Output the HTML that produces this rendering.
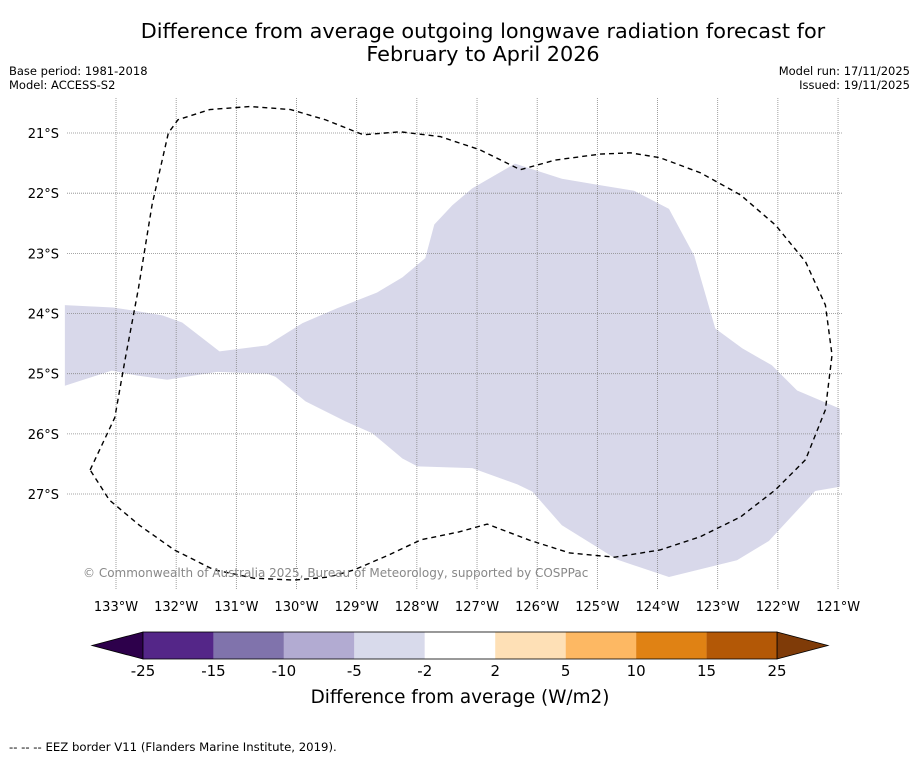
<!DOCTYPE html>
<html><head><meta charset="utf-8"><style>
body{margin:0;background:#fff;width:919px;height:758px;overflow:hidden;font-family:"DejaVu Sans","Liberation Sans",sans-serif;}
svg text{font-family:"DejaVu Sans","Liberation Sans",sans-serif;}
</style></head><body>
<svg id="chart" width="919" height="758">
<text x="483" y="38" font-size="20.8" text-anchor="middle">Difference from average outgoing longwave radiation forecast for</text>
<text x="483" y="61" font-size="20.8" text-anchor="middle">February to April 2026</text>
<text x="9" y="75" font-size="11.5">Base period: 1981-2018</text>
<text x="9" y="89" font-size="11.5">Model: ACCESS-S2</text>
<text x="910" y="75" font-size="11.5" text-anchor="end">Model run: 17/11/2025</text>
<text x="910" y="89" font-size="11.5" text-anchor="end">Issued: 19/11/2025</text>
<g id="map"></g>
<g id="cbar"></g>
<text x="460" y="703" font-size="18.4" text-anchor="middle">Difference from average (W/m2)</text>
<text x="9" y="751" font-size="11.7">--  --  -- EEZ border V11 (Flanders Marine Institute, 2019).</text>
</svg>
<script>
const lonTicks=[133,132,131,130,129,128,127,126,125,124,123,122,121];
const latTicks=[21,22,23,24,25,26,27];
const cbarBounds=[-25,-15,-10,-5,-2,2,5,10,15,25];
const cbarColors=["#542688","#8073ac","#b2abd2","#d8daeb","#ffffff","#fee0b6","#fdb863","#e08214","#b35806"];
const anomalyRegion=[[-133.85,23.86],[-133.05,23.9],[-132.65,23.96],[-132.23,24.03],[-131.9,24.15],[-131.28,24.63],[-130.49,24.53],[-129.9,24.16],[-129.32,23.91],[-128.66,23.65],[-128.24,23.4],[-127.86,23.08],[-127.71,22.52],[-127.41,22.2],[-127.08,21.92],[-126.37,21.51],[-125.59,21.76],[-125.0,21.86],[-124.39,21.96],[-123.81,22.26],[-123.39,23.04],[-123.04,24.25],[-122.59,24.58],[-122.1,24.86],[-121.68,25.28],[-120.97,25.58],[-120.97,26.88],[-121.38,26.95],[-122.15,27.78],[-122.68,28.1],[-123.81,28.38],[-124.67,28.09],[-125.59,27.52],[-126.08,26.96],[-126.33,26.84],[-127.08,26.57],[-127.99,26.54],[-128.24,26.41],[-128.74,25.99],[-129.19,25.79],[-129.85,25.46],[-130.35,25.05],[-130.49,25.0],[-131.32,24.97],[-132.15,25.1],[-132.65,25.03],[-133.07,24.95],[-133.85,25.2]];
const eezBorder=[[-133.43,26.6],[-133.02,25.73],[-132.85,24.77],[-132.63,23.6],[-132.4,22.19],[-132.13,21.0],[-131.97,20.78],[-131.44,20.61],[-130.77,20.56],[-130.1,20.61],[-129.52,20.78],[-128.89,21.03],[-128.28,20.98],[-127.61,21.06],[-126.95,21.28],[-126.28,21.61],[-125.7,21.45],[-124.95,21.35],[-124.45,21.33],[-123.96,21.41],[-123.29,21.66],[-122.62,22.03],[-122.04,22.53],[-121.54,23.14],[-121.21,23.86],[-121.1,24.69],[-121.21,25.6],[-121.54,26.43],[-122.04,26.93],[-122.62,27.38],[-123.29,27.71],[-123.96,27.93],[-124.71,28.05],[-125.46,27.98],[-126.12,27.77],[-126.83,27.5],[-127.3,27.63],[-127.93,27.76],[-128.46,28.01],[-129.04,28.26],[-129.46,28.38],[-130.04,28.43],[-130.7,28.4],[-131.37,28.26],[-132.03,27.93],[-132.61,27.52],[-133.11,27.1],[-133.43,26.6]];
const NS="http://www.w3.org/2000/svg";
const xS=l=>116+(133-l)*60.17;
const xL=l=>116+(133+l)*60.17;
const yS=a=>133+(a-21)*60.17;
function mk(t,a,p){const e=document.createElementNS(NS,t);for(const k in a)e.setAttribute(k,a[k]);p.appendChild(e);return e;}
const map=document.getElementById('map');
const reg=mk('polygon',{points:anomalyRegion.map(p=>xL(p[0])+','+yS(p[1])).join(' '),fill:'#d8d8ea'},map);


latTicks.forEach(a=>{
  const l=mk('line',{x1:67,x2:843,y1:yS(a),y2:yS(a),stroke:'#888','stroke-width':0.8,'stroke-dasharray':'1,1'},map);
  
  
  const t=mk('text',{x:59,y:yS(a)+5,'font-size':13,'text-anchor':'end'},map);t.textContent=a+'°S';
  
  
});
lonTicks.forEach(l=>{
  const g=mk('line',{x1:xS(l),x2:xS(l),y1:98,y2:590,stroke:'#888','stroke-width':0.8,'stroke-dasharray':'1,1'},map);
  
  
  const t=mk('text',{x:xS(l),y:611,'font-size':13,'text-anchor':'middle'},map);t.textContent=l+'°W';
  
  
});
const eez=mk('polyline',{points:eezBorder.map(p=>xL(p[0])+','+yS(p[1])).join(' '),fill:'none',stroke:'#000','stroke-width':1.4,'stroke-dasharray':'5,4'},map);


const cp=mk('text',{x:83,y:577,'font-size':12,fill:'#888'},map);cp.textContent='© Commonwealth of Australia 2025, Bureau of Meteorology, supported by COSPPac';


const cb=document.getElementById('cbar');
const x0=143,x1=777,cy0=632,cy1=659,n=cbarColors.length,w=(x1-x0)/n;
const lt=mk('polygon',{points:`${x0},${cy0} ${x0},${cy1} 92,${(cy0+cy1)/2}`,fill:'#2d004b',stroke:'#000','stroke-width':0.8},cb);


const rt=mk('polygon',{points:`${x1},${cy0} ${x1},${cy1} 828,${(cy0+cy1)/2}`,fill:'#7f3b08',stroke:'#000','stroke-width':0.8},cb);


cbarColors.forEach((c,i)=>{
  const r=mk('rect',{x:x0+i*w,y:cy0,width:w,height:cy1-cy0,fill:c},cb);
  
  
});
mk('rect',{x:x0,y:cy0,width:x1-x0,height:cy1-cy0,fill:'none',stroke:'#000','stroke-width':0.8},cb);
cbarBounds.forEach((b,i)=>{
  const t=mk('text',{x:x0+i*w,y:676,'font-size':15,'text-anchor':'middle'},cb);t.textContent=b;
  
  
});
</script>
</body></html>
